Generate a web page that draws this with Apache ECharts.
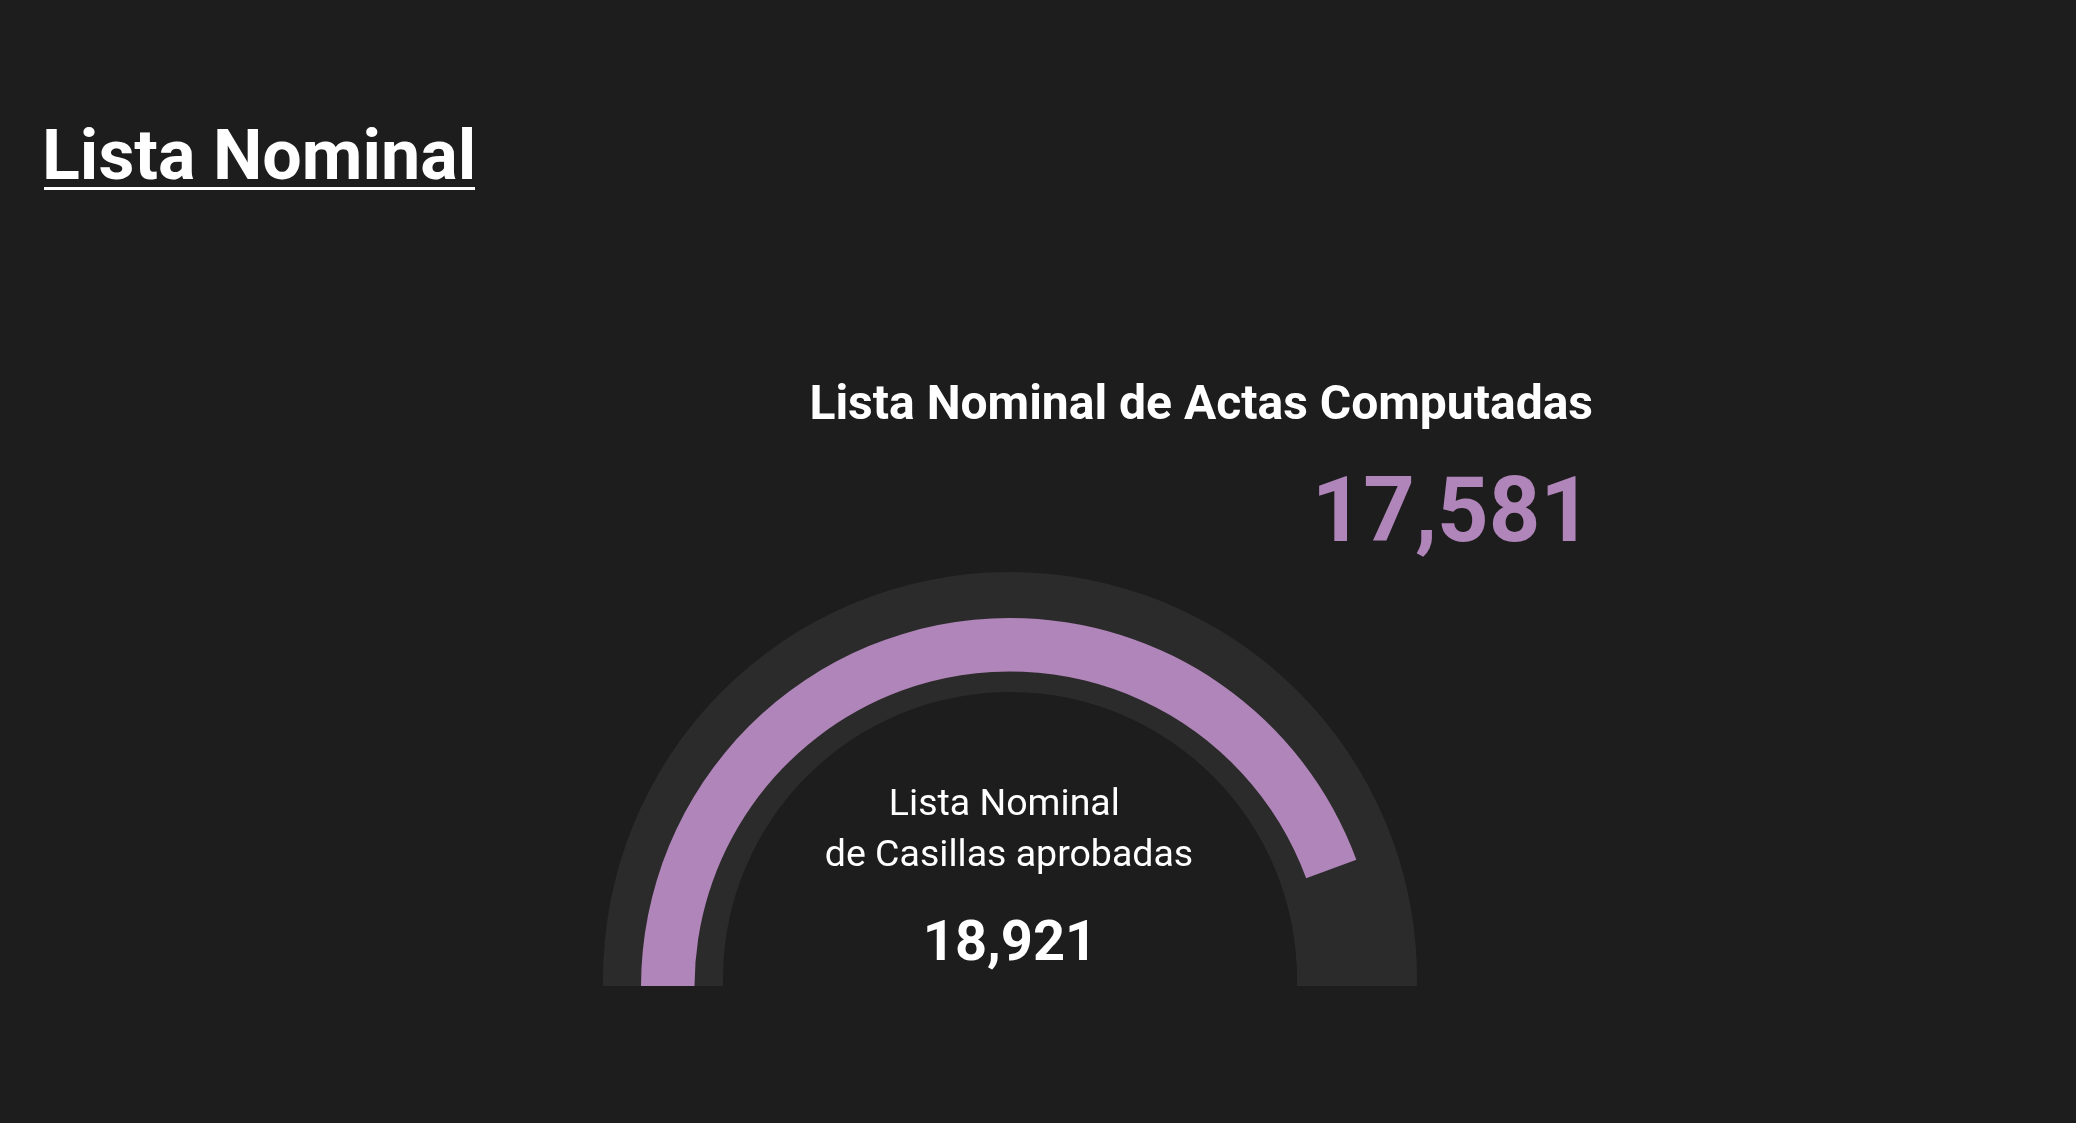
<!DOCTYPE html>
<html>
<head>
<meta charset="utf-8">
<title>Lista Nominal</title>
<script src="https://cdn.jsdelivr.net/npm/echarts@6/dist/echarts.min.js"></script>
<style>
  html, body { margin: 0; padding: 0; background: #1d1d1d; }
  #chart { width: 2076px; height: 986px; }
</style>
</head>
<body>
<div id="chart"></div>
<script>
// Figures shown on the panel
const tituloPanel = 'Lista Nominal';
const etiquetaComputadas = 'Lista Nominal de Actas Computadas';
const etiquetaAprobadas = ['Lista Nominal ', 'de Casillas aprobadas'];
const valorComputadas = 17581;
const valorAprobadas = 18921;
// Gauge scale
const escalaMin = 0;
const escalaMax = 19800;

const fmt = v => v.toLocaleString('en-US');
const MORADO = '#b085b9';
const FONDO_ARCO = '#2b2b2b';
const FUENTE = 'Roboto, "Noto Sans", sans-serif';

const chart = echarts.init(document.getElementById('chart'), null, { renderer: 'canvas' });

const hidden = {
  pointer: { show: false },
  axisTick: { show: false },
  splitLine: { show: false },
  axisLabel: { show: false },
  anchor: { show: false },
  title: { show: false },
  detail: { show: false }
};

chart.setOption({
  backgroundColor: '#1d1d1d',
  animation: false,
  series: [
    // wide dark track behind the progress arc
    Object.assign({
      type: 'gauge',
      center: [1010, 979],
      radius: 407,
      startAngle: 200,
      endAngle: -20,
      min: escalaMin,
      max: escalaMax,
      axisLine: { lineStyle: { width: 120, color: [[1, FONDO_ARCO]] } },
      progress: { show: false },
      data: [{ value: 0 }]
    }, hidden),
    // progress arc for the computed list
    Object.assign({
      type: 'gauge',
      center: [1010, 987],
      radius: 369,
      startAngle: 180,
      endAngle: 0,
      min: escalaMin,
      max: escalaMax,
      axisLine: { show: false },
      progress: { show: true, width: 53.5, roundCap: false, itemStyle: { color: MORADO } },
      data: [{ value: valorComputadas }]
    }, hidden)
  ],
  graphic: [
    {
      type: 'text', x: 42, y: 161,
      style: { text: tituloPanel, fill: '#ffffff', font: 'bold 70px ' + FUENTE, align: 'left', verticalAlign: 'middle' }
    },
    {
      type: 'rect', shape: { x: 44, y: 187, width: 431, height: 3 },
      style: { fill: '#ffffff' }
    },
    {
      type: 'text', x: 1593, y: 407,
      style: { text: etiquetaComputadas, fill: '#ffffff', font: 'bold 48px ' + FUENTE, align: 'right', verticalAlign: 'middle' }
    },
    {
      type: 'text', x: 1592, y: 518,
      style: { text: fmt(valorComputadas), fill: MORADO, font: 'bold 90px ' + FUENTE, align: 'right', verticalAlign: 'middle' }
    },
    {
      type: 'text', x: 1009, y: 806,
      style: { text: etiquetaAprobadas[0], fill: '#ffffff', font: '37.5px ' + FUENTE, align: 'center', verticalAlign: 'middle' }
    },
    {
      type: 'text', x: 1009, y: 856.5,
      style: { text: etiquetaAprobadas[1], fill: '#ffffff', font: '37.5px ' + FUENTE, align: 'center', verticalAlign: 'middle' }
    },
    {
      type: 'text', x: 1010, y: 946,
      style: { text: fmt(valorAprobadas), fill: '#ffffff', font: 'bold 56px ' + FUENTE, align: 'center', verticalAlign: 'middle' }
    }
  ]
});
</script>
</body>
</html>
